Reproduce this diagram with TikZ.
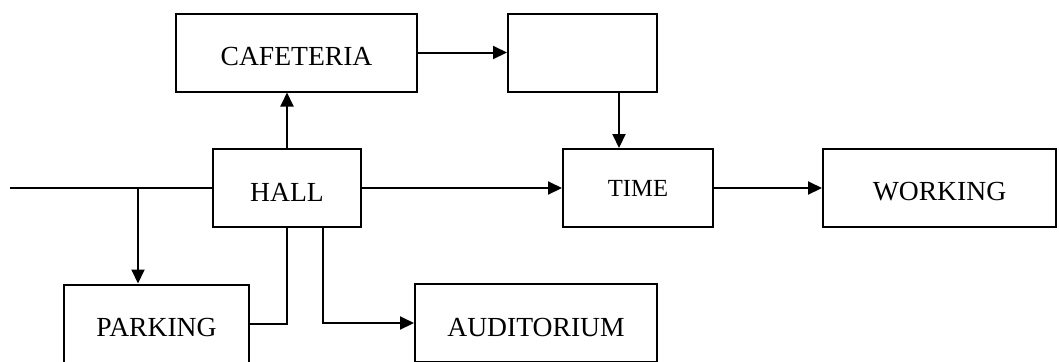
\documentclass[tikz,border=0pt]{standalone}
\usepackage{fontspec}
\setmainfont{Liberation Serif}
\usepackage{tikz}
\usetikzlibrary{arrows,arrows.meta}
\tikzset{>={Triangle[length=7pt,width=6.5pt]}}
\tikzset{
    place/.style={draw, rectangle, line width=1pt, minimum width=#1, inner sep=0pt,
        minimum height=39pt, text height=13pt, text depth=0pt,
        font=\fontsize{13.8}{16}\selectfont},
    place/.default=74pt
}

\begin{document}
\begin{tikzpicture}[x=0.5pt, y=-0.5pt, line width=1pt]
    \useasboundingbox (0,0) rectangle (1059,361);

    \node[place=120.5pt] (cafe) at (296.5, 52.5) {CAFETERIA};
    \node[place=74.5pt] (blank) at (582.5, 52.5) {};
    \node[place=74pt] (hall) at (287, 188) {HALL};
    \node[place=75pt, text height=8.5pt, font=\fontsize{12.3}{14}\selectfont] (time) at (638, 188) {TIME};
    \node[place=116.5pt] (work) at (939.5, 187.5) {WORKING};
    \node[place=92.5pt] (park) at (156.5, 323.5) {PARKING};
    \node[place=121pt] (audi) at (536, 323) {AUDITORIUM};

    \coordinate (in) at (10, 188);
    \coordinate (split) at (138, 188);
    \coordinate (drop) at (619, 91);
    \coordinate (hx) at (323, 227);

    % main line
    \draw (in) -- (hall.west);
    \draw[->] (hall.east) -- (time.west);
    \draw[->] (time.east) -- (time.east -| work.west);
    \draw[->] (split) -- (park.north -| split);

    % upper branch
    \draw[->] (hall.north) -- (hall.north |- cafe.south);
    \draw[->] (cafe.east) -- (cafe.east -| blank.west);
    \draw[->] (blank.south -| drop) -- (time.north -| drop);

    % lower branch
    \draw (park.east) -| (hall.south);
    \draw[->] (hall.south -| hx) |- (audi.west);
\end{tikzpicture}
\end{document}
